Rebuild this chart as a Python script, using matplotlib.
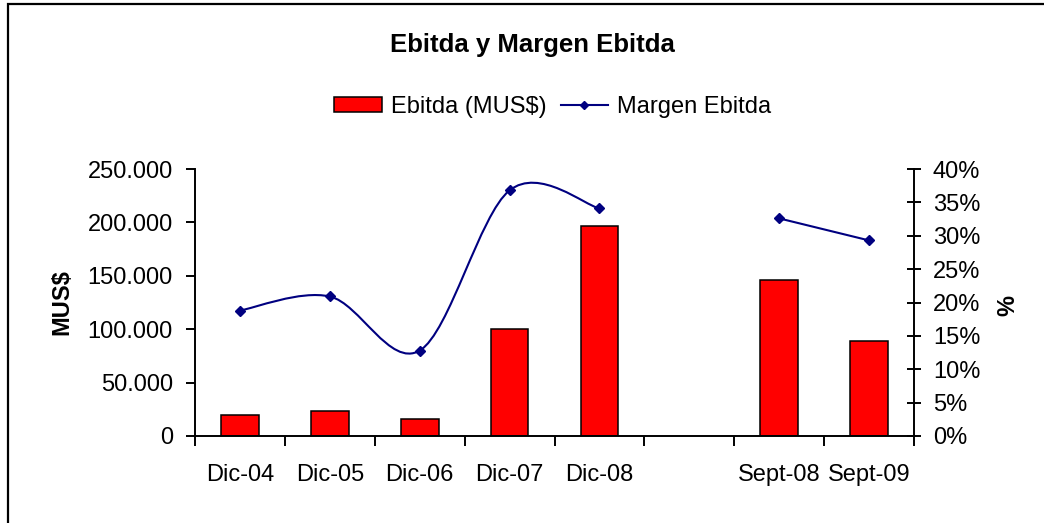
import numpy as np
import matplotlib
matplotlib.use('Agg')
import matplotlib.pyplot as plt
from matplotlib.path import Path
from matplotlib.patches import PathPatch, Rectangle, Patch
from matplotlib.lines import Line2D
from matplotlib.ticker import FuncFormatter, FixedLocator

plt.rcParams['font.family'] = ['Liberation Sans', 'DejaVu Sans']

# datos
categorias = ['Dic-04', 'Dic-05', 'Dic-06', 'Dic-07', 'Dic-08', '', 'Sept-08', 'Sept-09']
ebitda = [19700, 23500, 16000, 100500, 196500, np.nan, 146000, 89000]   # MUS$
margen = [18.8, 20.9, 12.8, 36.8, 34.1, np.nan, 32.6, 29.3]             # %
ticks_mus = [0, 50000, 100000, 150000, 200000, 250000]
ticks_pct = [0, 5, 10, 15, 20, 25, 30, 35, 40]

AZUL = '#000080'


def curva_suave(xs, ys):
    '''curva suavizada tipo Excel (bezier con tangentes catmull-rom)'''
    pts = np.column_stack([xs, ys])
    verts, codes = [pts[0]], [Path.MOVETO]
    for i in range(len(pts) - 1):
        p0 = pts[i - 1] if i > 0 else pts[i]
        p1, p2 = pts[i], pts[i + 1]
        p3 = pts[i + 2] if i + 2 < len(pts) else pts[i + 1]
        verts += [p1 + (p2 - p0) / 6, p2 - (p3 - p1) / 6, p2]
        codes += [Path.CURVE4] * 3
    return Path(verts, codes)


fig = plt.figure(figsize=(10.44, 5.23), dpi=100)
ax = fig.add_axes([195 / 1044, 1 - 436 / 523, 719 / 1044, 267 / 523])
ax2 = ax.twinx()

x = np.arange(len(categorias))
ax.bar(x, ebitda, width=0.42, color='#FF0000', edgecolor='black', linewidth=1.1, zorder=2)

# linea de margen, por tramos (hueco en la categoria vacia)
marg = np.array(margen, dtype=float)
tramo = []
for i in range(len(marg) + 1):
    if i < len(marg) and not np.isnan(marg[i]):
        tramo.append(i)
    else:
        if len(tramo) > 1:
            ax2.add_patch(PathPatch(curva_suave(x[tramo], marg[tramo]), facecolor='none',
                                    edgecolor=AZUL, linewidth=1.5, zorder=3))
        tramo = []
ax2.plot(x, marg, linestyle='none', marker='D', markersize=5, color=AZUL, zorder=4)

ax.set_xlim(-0.5, len(categorias) - 0.5)
ax.set_ylim(0, 250000)
ax2.set_ylim(0, 40)

ax.yaxis.set_major_locator(FixedLocator(ticks_mus))
ax.yaxis.set_major_formatter(FuncFormatter(lambda v, p: f'{v:,.0f}'.replace(',', '.')))
ax2.yaxis.set_major_locator(FixedLocator(ticks_pct))
ax2.yaxis.set_major_formatter(FuncFormatter(lambda v, p: f'{v:.0f}%'))

ax.set_xticks(x)
ax.set_xticklabels(categorias)
ax.set_xticks(np.arange(len(categorias) + 1) - 0.5, minor=True)
ax.tick_params(axis='x', which='major', length=0, pad=20, labelsize=17)
ax.tick_params(axis='x', which='minor', length=7, width=1.4, direction='out')
ax.tick_params(axis='y', length=6.5, width=1.4, direction='out', pad=9.5, labelsize=17)
ax2.tick_params(axis='y', length=10, width=1.4, direction='inout', pad=8.5, labelsize=17)

for s in ['top', 'right']:
    ax.spines[s].set_visible(False)
for s in ['top', 'left', 'bottom']:
    ax2.spines[s].set_visible(False)
ax.spines['left'].set_linewidth(1.4)
ax.spines['bottom'].set_linewidth(1.4)
ax2.spines['right'].set_linewidth(1.4)

fig.text(62 / 1044, 1 - 302 / 523, 'MUS$', rotation=90, ha='center', va='center',
         fontsize=17, fontweight='bold')
fig.text(1008 / 1044, 1 - 305 / 523, '%', rotation=90, ha='center', va='center',
         fontsize=17, fontweight='bold')
fig.text(532 / 1044, 1 - 45 / 523, 'Ebitda y Margen Ebitda', ha='center', va='center',
         fontsize=18.5, fontweight='bold')

handles = [Patch(facecolor='#FF0000', edgecolor='black', linewidth=1.1),
           Line2D([], [], color=AZUL, linewidth=1.5, marker='D', markersize=4)]
fig.legend(handles, ['Ebitda (MUS$)', 'Margen Ebitda'], loc='center',
           bbox_to_anchor=(553 / 1044, 1 - 107 / 523), ncol=2, frameon=False,
           fontsize=17, handlelength=2.0, handleheight=0.62, handletextpad=0.4,
           columnspacing=0.6)

# marco del area del grafico
fig.add_artist(Rectangle((8 / 1044, -0.1), 1.2, 1.1 - 4 / 523, transform=fig.transFigure,
                         facecolor='none', edgecolor='black', linewidth=1.6, clip_on=False))

plt.savefig('out.png', dpi=100)
